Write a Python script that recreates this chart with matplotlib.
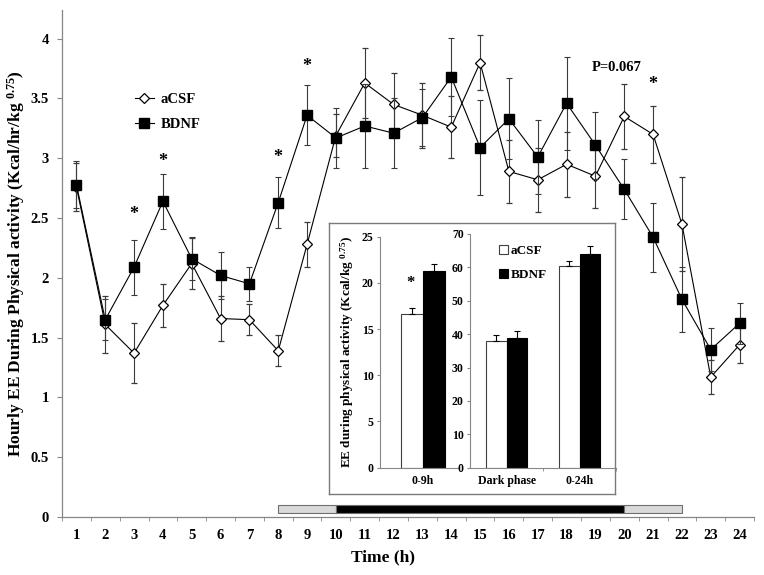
import numpy as np
import matplotlib
matplotlib.use("Agg")
import matplotlib.pyplot as plt
from matplotlib.lines import Line2D

# ---------------- data ----------------
hours = list(range(1, 25))
acsf = [2.76, 1.61, 1.37, 1.77, 2.12, 1.66, 1.65, 1.39, 2.28, 3.19, 3.63, 3.45,
        3.36, 3.26, 3.80, 2.89, 2.82, 2.95, 2.85, 3.35, 3.20, 2.45, 1.17, 1.44]
acsf_err = [0.20, 0.24, 0.25, 0.18, 0.21, 0.19, 0.13, 0.13, 0.19, 0.18, 0.29, 0.26,
            0.27, 0.26, 0.23, 0.26, 0.27, 0.27, 0.27, 0.27, 0.24, 0.39, 0.14, 0.15]
bdnf = [2.78, 1.65, 2.09, 2.64, 2.16, 2.02, 1.95, 2.63, 3.36, 3.17, 3.27, 3.21,
        3.34, 3.68, 3.09, 3.33, 3.01, 3.46, 3.11, 2.74, 2.34, 1.82, 1.40, 1.62]
bdnf_err = [0.20, 0.17, 0.23, 0.23, 0.18, 0.20, 0.14, 0.21, 0.25, 0.25, 0.35, 0.29,
            0.24, 0.33, 0.40, 0.34, 0.31, 0.39, 0.28, 0.25, 0.29, 0.27, 0.18, 0.17]
ytick_vals = [0, 0.5, 1, 1.5, 2, 2.5, 3, 3.5, 4]
ytick_labels = ["0", "0.5", "1", "1.5", "2", "2.5", "3", "3.5", "4"]

star_hours = [3, 4, 8, 9, 21]
star_y = [2.53, 2.97, 3.01, 3.77, 3.62]

# light/dark phase strip
phase_start = [8, 10, 20]
phase_end = [10, 20, 22]
phase_color = ["#d9d9d9", "black", "#d9d9d9"]

# inset data
inset1_cats = ["0-9h"]
inset1_acsf = [16.6]
inset1_acsf_err = [0.65]
inset1_bdnf = [21.3]
inset1_bdnf_err = [0.7]
inset2_cats = ["Dark phase", "0-24h"]
inset2_acsf = [37.9, 60.5]
inset2_acsf_err = [1.7, 1.5]
inset2_bdnf = [38.9, 63.9]
inset2_bdnf_err = [2.1, 2.4]

# ---------------- style ----------------
plt.rcParams["font.family"] = ["Liberation Serif", "DejaVu Serif"]
plt.rcParams["font.weight"] = "bold"
plt.rcParams["mathtext.fontset"] = "custom"
plt.rcParams["mathtext.rm"] = "Liberation Serif:bold"
plt.rcParams["mathtext.bf"] = "Liberation Serif:bold"
plt.rcParams["mathtext.default"] = "bf"

GREY = "#868686"
W, H = 764, 575

fig = plt.figure(figsize=(7.64, 5.75), dpi=100)


def px_axes(x0, y0, x1, y1, **kw):
    """axes from pixel box (x0 left, y0 top, x1 right, y1 bottom)"""
    return fig.add_axes([x0 / W, 1 - y1 / H, (x1 - x0) / W, (y1 - y0) / H], **kw)


ax = px_axes(62, 10, 754, 517)
ax.set_xlim(0.5, 24.5)
ax.set_ylim(0, 4.24)

ax.errorbar(hours, acsf, yerr=acsf_err, fmt="-D", color="black", mfc="white",
            mec="black", mew=0.9, ms=5.6, lw=0.8, ecolor="#3a3a3a",
            elinewidth=0.8, capsize=2, capthick=0.8, zorder=3)
ax.errorbar(hours, bdnf, yerr=bdnf_err, fmt="-s", color="black", mfc="black",
            mec="black", ms=6.5, lw=0.8, ecolor="#3a3a3a",
            elinewidth=0.8, capsize=2, capthick=0.8, zorder=4)

# light/dark strip
ax.barh([0.0665] * len(phase_start),
        [e - s for s, e in zip(phase_start, phase_end)],
        left=phase_start, height=0.067, color=phase_color,
        edgecolor="#6f6f6f", linewidth=0.8, zorder=2)

for h, y in zip(star_hours, star_y):
    ax.text(h, y, "*", ha="center", va="center", fontsize=13)
ax.text(19.74, 3.76, "P=0.067", ha="center", va="center", fontsize=10.5)

for s in ["top", "right"]:
    ax.spines[s].set_visible(False)
for s in ["left", "bottom"]:
    ax.spines[s].set_color(GREY)
    ax.spines[s].set_linewidth(0.9)

ax.set_xticks(hours)
ax.set_xticklabels([str(h) for h in hours])
ax.set_xticks(np.arange(0.5, 25, 1), minor=True)
ax.tick_params(axis="x", which="major", length=0, pad=8.5, labelsize=10.5)
ax.tick_params(axis="x", which="minor", length=3, color=GREY, direction="out")
ax.set_yticks(ytick_vals)
ax.set_yticklabels(ytick_labels)
ax.tick_params(axis="y", length=3.5, color=GREY, direction="out", pad=6,
               labelsize=10.5)

ax.set_ylabel("Hourly EE During Physical activity (Kcal/hr/kg $^{0.75}$)",
              fontsize=12.5, fontweight="bold")
ax.yaxis.set_label_coords(-0.05, 0.5)
ax.set_xlabel("Time (h)", fontsize=12.5, fontweight="bold")
ax.xaxis.set_label_coords(0.464, -0.064)

handles = [
    Line2D([], [], color="black", lw=0.8, marker="D", mfc="white", mec="black",
           mew=0.9, ms=5.6),
    Line2D([], [], color="black", lw=0.8, marker="s", mfc="black", mec="black",
           ms=6.5),
]
ax.legend(handles, ["aCSF", "BDNF"], loc="upper left",
          bbox_to_anchor=((135 - 62) / 692, (517 - 93) / 507),
          frameon=False, fontsize=10.5, handlelength=1.3, handletextpad=0.45,
          labelspacing=0.8, borderpad=0, borderaxespad=0)

# ---------------- inset ----------------
box = px_axes(329, 223, 615, 494)
box.set_xticks([])
box.set_yticks([])
box.set_facecolor("white")
for s in box.spines.values():
    s.set_color("#7a7a7a")
    s.set_linewidth(1.0)
box.set_zorder(5)

bw = 0.28
a1 = px_axes(380, 236.7, 458, 467.7)
a1.set_zorder(6)
a1.patch.set_alpha(0)
x1 = np.arange(len(inset1_cats))
a1.bar(x1 - bw / 2, inset1_acsf, bw, color="white", edgecolor="#404040", linewidth=0.8)
a1.bar(x1 + bw / 2, inset1_bdnf, bw, color="black", edgecolor="black", linewidth=0.8)
a1.errorbar(x1 - bw / 2, inset1_acsf, yerr=[[0] * len(x1), inset1_acsf_err], fmt="none",
            ecolor="black", elinewidth=0.8, capsize=2, capthick=0.8)
a1.errorbar(x1 + bw / 2, inset1_bdnf, yerr=[[0] * len(x1), inset1_bdnf_err], fmt="none",
            ecolor="black", elinewidth=0.8, capsize=2, capthick=0.8)
a1.set_xlim(-0.55, 0.45)
a1.set_ylim(0, 25)
a1.set_yticks(range(0, 26, 5))
a1.set_xticks(x1)
a1.set_xticklabels(inset1_cats)
a1.text(-bw / 2 - 0.02, 20.0, "*", ha="center", va="center", fontsize=12)
a1.set_ylabel("EE during physical activity (Kcal/kg $^{0.75}$)", fontsize=9.5,
              fontweight="bold", labelpad=4)

a2 = px_axes(470, 234, 616, 467.7)
a2.set_zorder(6)
a2.patch.set_alpha(0)
x2 = np.arange(len(inset2_cats))
a2.bar(x2 - bw / 2, inset2_acsf, bw, color="white", edgecolor="#404040",
       linewidth=0.8, label="aCSF")
a2.bar(x2 + bw / 2, inset2_bdnf, bw, color="black", edgecolor="black",
       linewidth=0.8, label="BDNF")
a2.errorbar(x2 - bw / 2, inset2_acsf, yerr=[[0] * len(x2), inset2_acsf_err], fmt="none",
            ecolor="black", elinewidth=0.8, capsize=2, capthick=0.8)
a2.errorbar(x2 + bw / 2, inset2_bdnf, yerr=[[0] * len(x2), inset2_bdnf_err], fmt="none",
            ecolor="black", elinewidth=0.8, capsize=2, capthick=0.8)
a2.set_xlim(-0.5, 1.5)
a2.set_ylim(0, 70)
a2.set_yticks(range(0, 71, 10))
a2.set_xticks(x2)
a2.set_xticklabels(inset2_cats)
a2.set_xticks([0.5, 1.5], minor=True)
a2.legend(loc="upper left", bbox_to_anchor=(0.2, 0.955), frameon=False,
          fontsize=9.5, handlelength=0.7, handleheight=0.7, handletextpad=0.15,
          labelspacing=0.9, borderpad=0, borderaxespad=0)

for a in (a1, a2):
    for s in ["top", "right"]:
        a.spines[s].set_visible(False)
    for s in ["left", "bottom"]:
        a.spines[s].set_color(GREY)
        a.spines[s].set_linewidth(0.8)
    a.tick_params(axis="y", length=2.5, color=GREY, direction="out", pad=2,
                  labelsize=8.5)
    a.tick_params(axis="x", which="major", length=0, pad=5, labelsize=8.5)
    a.tick_params(axis="x", which="minor", length=2.5, color=GREY, direction="out")

fig.savefig("out.png", dpi=100)
